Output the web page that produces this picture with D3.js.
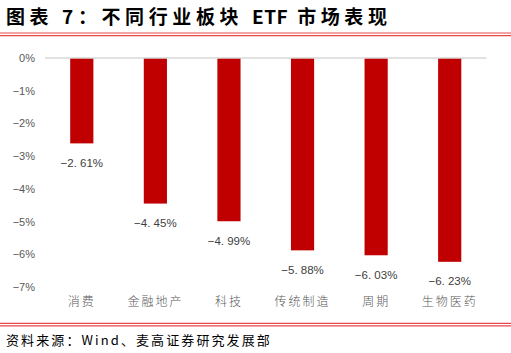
<!DOCTYPE html>
<html><head><meta charset="utf-8">
<script src="https://cdn.jsdelivr.net/npm/d3@7"></script>
<style>body{margin:0;background:#fff;} svg{display:block;}</style>
</head><body>
<svg id="c" width="511" height="353"></svg>
<script>
const categories = ["消费","金融地产","科技","传统制造","周期","生物医药"];
const values = [-2.61,-4.45,-4.99,-5.88,-6.03,-6.23];
const tickValues = [0,-1,-2,-3,-4,-5,-6,-7];
const titleParts = ["图表 7：不同行业板块 ", "ETF", " 市场表现"];
const source = "资料来源：Wind、麦高证券研究发展部";

const svg = d3.select("#c");
const cjk = "'Noto Sans CJK SC','Noto Sans',sans-serif";

const t = svg.append("text").attr("x",6).attr("y",24).attr("font-family",cjk).attr("font-weight","bold")
  .attr("font-size",19).attr("fill","#000");
t.append("tspan").attr("letter-spacing",4.6).text(titleParts[0]);
t.append("tspan").attr("letter-spacing",0.5).text(titleParts[1]);
t.append("tspan").attr("letter-spacing",4.6).text(titleParts[2]);
[33,35.7].forEach(y=>svg.append("line").attr("x1",0).attr("x2",511).attr("y1",y).attr("y2",y)
  .attr("stroke","#e8474c").attr("stroke-width",1.2));
[323.3,325.8].forEach(y=>svg.append("line").attr("x1",0).attr("x2",511).attr("y1",y).attr("y2",y)
  .attr("stroke","#e8474c").attr("stroke-width",1.2));
svg.append("text").attr("x",6).attr("y",345).attr("font-family",cjk)
  .attr("font-size",13).attr("letter-spacing",2.1).attr("fill","#000").text(source);

const x = d3.scaleBand().domain(categories).range([45,486.5]).paddingInner(0.685).paddingOuter(0.3425);
const y = d3.scaleLinear().domain([0,-7]).range([58,287]);

// y tick labels
const yAxis = d3.axisLeft(y).tickValues(tickValues).tickSize(0).tickPadding(0)
  .tickFormat(d => (d<0?"−":"") + Math.abs(d) + "%");
const ga = svg.append("g").attr("transform","translate(35,0)").call(yAxis);
ga.select(".domain").remove();
ga.selectAll("text").attr("font-family","'Liberation Sans',Arial,sans-serif").attr("font-size",11).attr("fill","#595959");

// bars
svg.selectAll("rect.bar").data(values).enter().append("rect").attr("class","bar")
  .attr("x",(d,i)=>x(categories[i])).attr("width",x.bandwidth())
  .attr("y",y(0)).attr("height",d=>y(d)-y(0)).attr("fill","#c00000");

// zero line
svg.append("line").attr("x1",45).attr("x2",486.5).attr("y1",y(0)).attr("y2",y(0))
  .attr("stroke","#d9d9d9").attr("stroke-width",1.5);

// value labels
svg.selectAll("text.val").data(values).enter().append("text").attr("class","val")
  .attr("x",(d,i)=>x(categories[i])+x.bandwidth()/2).attr("y",d=>y(d)+23.5)
  .attr("text-anchor","middle").attr("font-family","'Liberation Sans',Arial,sans-serif")
  .attr("font-size",11.5).attr("fill","#404040")
  .text(d=>"−"+Math.abs(d).toFixed(2).replace(".",". ")+"%");

// category labels
const xAxis = d3.axisBottom(x).tickSize(0).tickPadding(0);
const gx = svg.append("g").attr("transform","translate(0,297)").call(xAxis);
gx.select(".domain").remove();
gx.selectAll("text").attr("font-family",cjk).attr("font-size",12).attr("fill","#595959")
  .attr("font-weight",300).attr("letter-spacing",2).attr("dy","0.71em");
</script>
</body></html>
